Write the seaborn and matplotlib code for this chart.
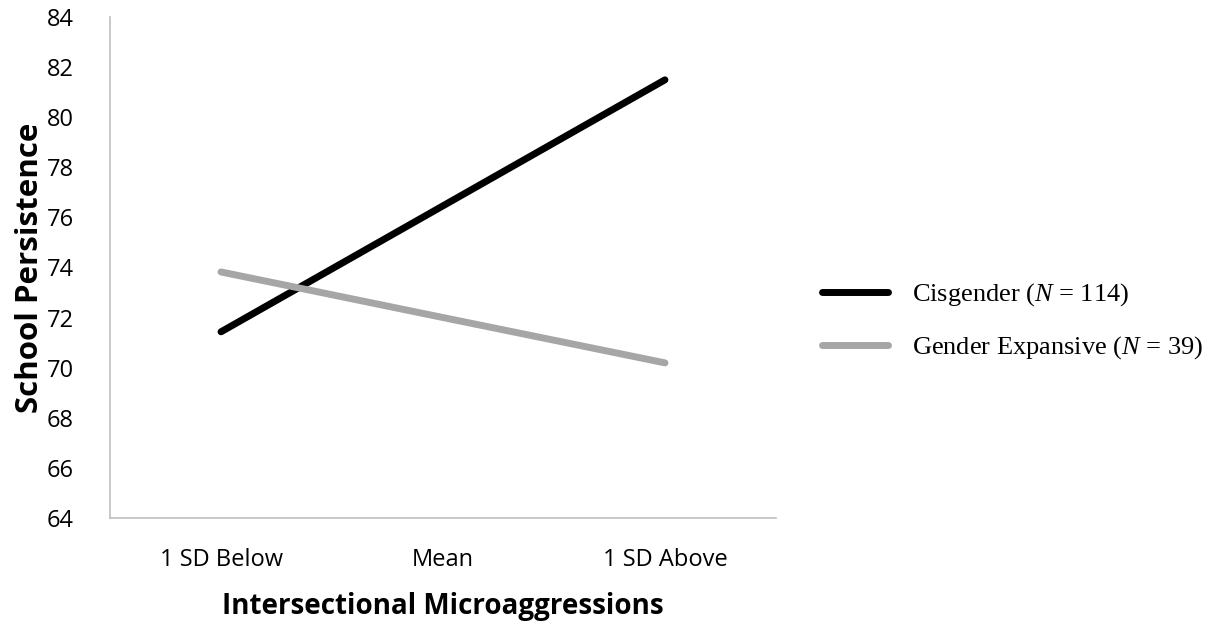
import matplotlib
matplotlib.use("Agg")
import matplotlib.pyplot as plt
import seaborn as sns
import pandas as pd
from matplotlib.lines import Line2D

categories = ["1 SD Below", "Mean", "1 SD Above"]
cisgender = [71.43, 76.46, 81.49]
gender_expansive = [73.82, 72.0, 70.19]
series_names = ["Cisgender ($\\mathit{N}$ = 114)", "Gender Expansive ($\\mathit{N}$ = 39)"]
y_ticks = list(range(64, 85, 2))

rows = []
for name, vals in zip(series_names, [cisgender, gender_expansive]):
    for i, (c, v) in enumerate(zip(categories, vals)):
        rows.append({"x": i, "cat": c, "value": v, "series": name})
df = pd.DataFrame(rows)

sns.set_theme(style="white")
plt.rcParams["font.family"] = ["Open Sans", "DejaVu Sans"]
plt.rcParams["mathtext.fontset"] = "custom"
plt.rcParams["mathtext.it"] = "Liberation Serif:italic"
plt.rcParams["mathtext.rm"] = "Liberation Serif"
plt.rcParams["text.color"] = "#000000"
plt.rcParams["axes.labelcolor"] = "#000000"

fig = plt.figure(figsize=(12.17, 6.24), dpi=100)
ax = fig.add_axes([0.0904, 0.170, 0.5472, 0.8028])

colors = {series_names[0]: "#000000", series_names[1]: "#a6a6a6"}
sns.lineplot(data=df, x="x", y="value", hue="series", palette=colors,
             linewidth=5, ax=ax, legend=False, solid_capstyle="round")

ax.set_xlim(-0.5, 2.5)
ax.set_ylim(64, 84)
ax.set_yticks(y_ticks)
ax.set_xticks(range(len(categories)))
ax.set_xticklabels(categories)
ax.tick_params(axis="both", length=0, labelsize=17, colors="#000000")
ax.tick_params(axis="y", pad=26)
ax.tick_params(axis="x", pad=22)
for s in ["top", "right"]:
    ax.spines[s].set_visible(False)
for s in ["left", "bottom"]:
    ax.spines[s].set_color("#bfbfbf")
    ax.spines[s].set_linewidth(1.2)

ax.set_xlabel("Intersectional Microaggressions", fontsize=20, fontweight="bold",
              labelpad=14, color="#000000")
ax.set_ylabel("School Persistence", fontsize=22.5, fontweight="bold",
              labelpad=1, color="#000000")

handles = [Line2D([0], [0], color=colors[n], lw=5, solid_capstyle="round") for n in series_names]
fig.legend(handles, series_names, loc="center left", bbox_to_anchor=(0.656, 0.485),
           frameon=False, prop={"family": "Liberation Serif", "size": 19},
           handlelength=2.5, labelspacing=1.0, handletextpad=0.9, labelcolor="#000000")

fig.savefig("out.png", dpi=100)
